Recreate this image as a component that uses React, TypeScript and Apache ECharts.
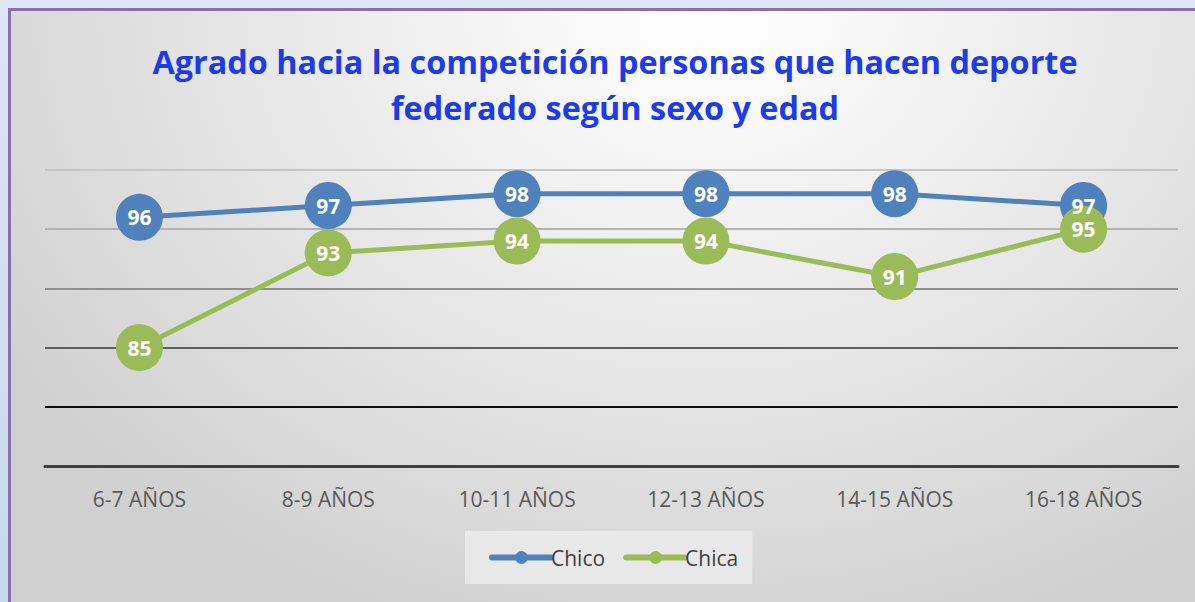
import React, { useEffect, useRef } from "react";
import * as echarts from "echarts";

const categories = ["6-7 AÑOS", "8-9 AÑOS", "10-11 AÑOS", "12-13 AÑOS", "14-15 AÑOS", "16-18 AÑOS"];
const chico = [96, 97, 98, 98, 98, 97];
const chica = [85, 93, 94, 94, 91, 95];
const titleLines = ["Agrado hacia la competición personas que hacen deporte", "federado según sexo y edad"];
const gridColors = ["#404040", "#0d0d0d", "#5f5f5f", "#8f8f8f", "#b3b3b3", "#c6c6c6"];

export default function App() {
  const ref = useRef<HTMLDivElement>(null);
  useEffect(() => {
    if (!ref.current) return;
    const chart = echarts.init(ref.current, undefined, { renderer: "svg" });
    const font = "'Open Sans', sans-serif";
    const labelCommon = {
      show: true,
      position: "inside",
      color: "#ffffff",
      fontWeight: "bold",
      fontSize: 21,
      fontFamily: font,
    };
    chart.setOption({
      animation: false,
      backgroundColor: "transparent",
      title: {
        text: titleLines.join("\n"),
        left: 599,
        top: 22,
        textAlign: "center",
        textStyle: {
          color: "#1c3ce6",
          fontWeight: "bold",
          fontSize: 32.4,
          lineHeight: 46,
          fontFamily: font,
        },
      },
      legend: {
        left: 454,
        top: 520,
        padding: [16, 14, 16, 24],
        backgroundColor: "rgba(240,240,240,0.7)",
        itemWidth: 59,
        itemHeight: 16,
        itemGap: 18,
        lineStyle: { width: 6, cap: "round" },
        textStyle: { color: "#404040", fontSize: 21, fontFamily: font, padding: [0, 0, 0, -5] },
        data: ["Chico", "Chica"],
      },
      grid: { left: 34, right: 17, top: 159, bottom: 136, containLabel: false },
      xAxis: {
        type: "category",
        data: categories,
        boundaryGap: true,
        axisLine: { show: true, lineStyle: { color: "#404040", width: 3 } },
        axisTick: { show: false },
        axisLabel: { color: "#595959", fontSize: 21, fontFamily: font, margin: 22 },
      },
      yAxis: {
        type: "value",
        min: 75,
        max: 100,
        interval: 5,
        axisLabel: { show: false },
        axisLine: { show: false },
        axisTick: { show: false },
        splitLine: { show: true, lineStyle: { color: gridColors, width: 2 } },
      },
      series: [
        {
          name: "Chico",
          type: "line",
          data: chico,
          symbol: "circle",
          symbolSize: 47,
          itemStyle: { color: "#4f81bd" },
          lineStyle: { color: "#4f81bd", width: 5 },
          label: { show: false },
          z: 3,
        },
        {
          name: "Chica",
          type: "line",
          data: chica,
          symbol: "circle",
          symbolSize: 47,
          itemStyle: { color: "#9bbb59" },
          lineStyle: { color: "#9bbb59", width: 5 },
          label: labelCommon,
          z: 4,
        },
        {
          name: "ChicoLabels",
          type: "line",
          data: chico,
          symbol: "circle",
          symbolSize: 1,
          itemStyle: { color: "rgba(0,0,0,0)" },
          lineStyle: { width: 0, opacity: 0 },
          label: labelCommon,
          silent: true,
          z: 5,
        },
      ],
    });
    return () => chart.dispose();
  }, []);

  return (
    <div
      style={{
        position: "fixed",
        left: 0,
        top: 0,
        width: 1195,
        height: 602,
        overflow: "hidden",
        background: "linear-gradient(180deg, #dde5f4 0%, #c9d6ee 100%)",
      }}
    >
      <div
        style={{
          position: "absolute",
          left: 8,
          top: 8,
          width: 1195,
          height: 602,
          borderLeft: "3px solid #8a6fb0",
          borderTop: "3px solid #8a6fb0",
          background:
            "radial-gradient(ellipse 70% 110% at 58% 0%, #ffffff 0%, #f2f2f2 30%, #d0d0d0 100%)",
        }}
      >
        <div ref={ref} style={{ position: "absolute", left: 0, top: 0, width: 1184, height: 591 }} />
      </div>
    </div>
  );
}
